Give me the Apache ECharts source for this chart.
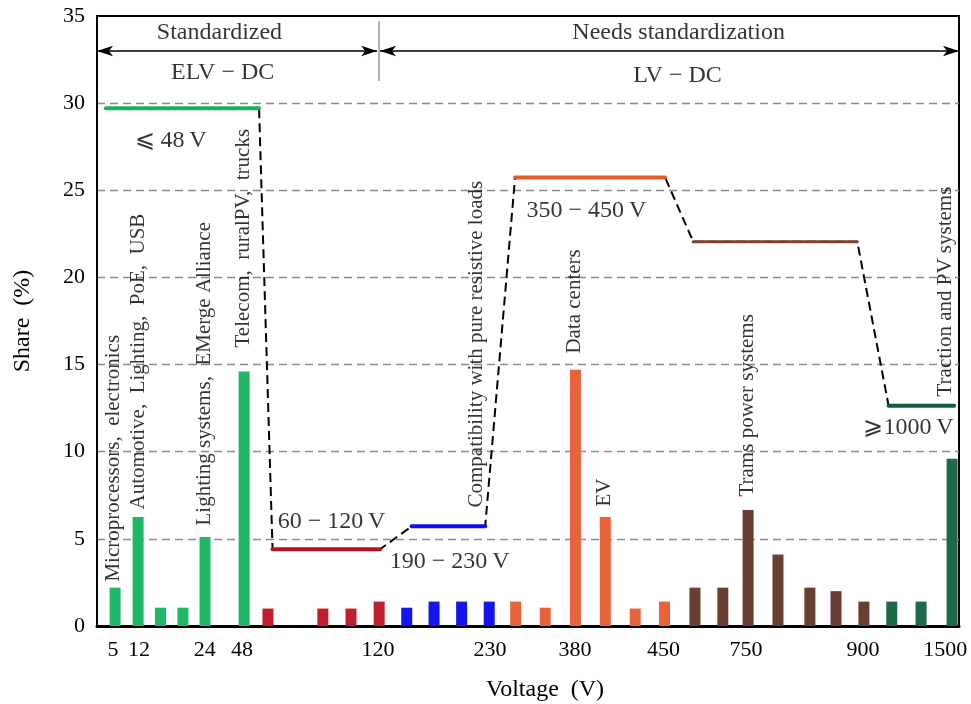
<!DOCTYPE html>
<html><head><meta charset="utf-8">
<script src="https://cdn.jsdelivr.net/npm/echarts@6/dist/echarts.min.js"></script>
<style>html,body{margin:0;padding:0;background:#fff}#c{width:971px;height:704px}</style>
</head><body><div id="c"></div>
<script>
// ---- Data (x positions are in units of the non-linear voltage axis, 0..30) ----
const barPos   = [0.63,1.43,2.21,2.99,3.76,5.12, 5.95,7.86,8.84,9.82, 10.78,11.73,12.69,13.65, 14.57,15.60,16.65,17.69,18.73,19.75, 20.81,21.78,22.66,23.70,24.81,25.72,26.69, 27.66,28.68,29.76];
const barShare = [2.2,6.25,1.05,1.05,5.1,14.6, 1.0,1.0,1.0,1.4, 1.05,1.4,1.4,1.4, 1.4,1.05,14.7,6.25,1.0,1.4, 2.2,2.2,6.65,4.1,2.2,2.0,1.4, 1.4,1.4,9.6];
const barGroup = [0,0,0,0,0,0, 1,1,1,1, 2,2,2,2, 3,3,3,3,3,3, 4,4,4,4,4,4,4, 5,5,5];

const levelStart = [0.31, 6.11, 10.95, 14.55, 20.75, 27.55];
const levelEnd   = [5.64, 9.85, 13.51, 19.77, 26.46, 29.83];
const levelShare = [29.7, 4.4, 5.72, 25.74, 22.05, 12.64];

const rangeText = ['\u2A7D 48\u2009V', '60 \u2212 120\u2009V', '190 \u2212 230\u2009V', '350 \u2212 450\u2009V', '\u2A7E1000\u2009V'];
const rangeX    = [2.58, 8.18, 12.29, 17.05, 28.26];
const rangeY    = [27.83, 5.97, 3.67, 23.81, 11.36];

const appText = ['Microprocessors,\u2002electronics', 'Automotive,\u2002Lighting,\u2002PoE,\u2002USB', 'Lighting systems,\u2002EMerge Alliance', 'Telecom,\u2002ruralPV,\u2002trucks', 'Compatibility with pure resistive loads', 'Data centers', 'EV', 'Trams power systems', 'Traction and PV systems'];
const appX    = [0.59, 1.46, 3.76, 5.12, 13.23, 16.64, 17.68, 22.66, 29.55];
const appY    = [2.52, 6.66, 5.74, 15.95, 6.77, 15.6, 6.83, 7.4, 13.14];

const headText = ['Standardized', 'ELV \u2212 DC', 'Needs standardization', 'LV \u2212 DC'];
const headX    = [4.28, 4.39, 20.26, 20.22];
const headY    = [34.02, 31.73, 34.02, 31.55];
const arrowY = 32.99;
const arrowSpans = [[0, 9.75], [9.85, 30]];
const dividerX = 9.8, dividerY = [31.27, 34.71];

const tickPos  = [0.56, 1.46, 3.75, 5.05, 9.78, 13.68, 16.64, 19.72, 22.59, 26.66, 29.52];
const tickText = ['5', '12', '24', '48', '120', '230', '380', '450', '750', '900', '1500'];
const yMin = 0, yMax = 35, yStep = 5;

// ---- Styles ----
const FONT = "'Liberation Serif','DejaVu Serif',serif";
const barColors   = ['#1fb866', '#be1e2d', '#1414ee', '#e8623a', '#6a3f33', '#1c6a47'];
const levelColors = ['#13b455', '#b8121f', '#0a0ff0', '#e75a2a', '#7a4232', '#0f5f36'];

const chart = echarts.init(document.getElementById('c'), null, {renderer: 'canvas'});

const dashed = [];
levelStart.forEach((s, i) => { dashed.push([s, levelShare[i]]); dashed.push([levelEnd[i], levelShare[i]]); });

const series = [
  {
    type: 'bar', barWidth: 11, z: 2, silent: true,
    data: barPos.map((x, i) => [x, barShare[i]]),
    itemStyle: { color: p => barColors[barGroup[p.dataIndex]] }
  },
  {
    type: 'line', data: dashed, symbol: 'none', z: 3, silent: true,
    lineStyle: { color: '#000', width: 2, type: [9, 5] }
  }
];
levelStart.forEach((s, i) => {
  series.push({
    type: 'line', symbol: 'none', z: 4, silent: true,
    data: [[s, levelShare[i]], [levelEnd[i], levelShare[i]]],
    lineStyle: { color: levelColors[i], width: i === 4 ? 3 : 4, cap: 'round' }
  });
});
series.push({
  type: 'scatter', symbolSize: 1, z: 6, silent: true,
  itemStyle: { color: 'rgba(0,0,0,0)' },
  data: appX.map((x, i) => [x, appY[i]]),
  label: { show: true, position: [0, 0], rotate: 90, align: 'left', verticalAlign: 'middle',
           formatter: p => appText[p.dataIndex], fontFamily: FONT, fontSize: 21, color: '#000' }
});
series.push({
  type: 'scatter', symbolSize: 1, z: 6, silent: true,
  itemStyle: { color: 'rgba(0,0,0,0)' },
  data: rangeX.map((x, i) => [x, rangeY[i]]),
  label: { show: true, position: [0, 0], align: 'center', verticalAlign: 'middle',
           formatter: p => rangeText[p.dataIndex], fontFamily: FONT, fontSize: 24, color: '#000' }
});
series.push({
  type: 'scatter', symbolSize: 1, z: 6, silent: true,
  itemStyle: { color: 'rgba(0,0,0,0)' },
  data: headX.map((x, i) => [x, headY[i]]),
  label: { show: true, position: [0, 0], align: 'center', verticalAlign: 'middle',
           formatter: p => headText[p.dataIndex], fontFamily: FONT, fontSize: 24, color: '#000' },
  markLine: {
    silent: true, animation: false,
    label: { show: false },
    data: [
      [{ coord: [arrowSpans[0][0], arrowY], symbol: 'arrow' }, { coord: [arrowSpans[0][1], arrowY], symbol: 'arrow' }],
      [{ coord: [arrowSpans[1][0], arrowY], symbol: 'arrow' }, { coord: [arrowSpans[1][1], arrowY], symbol: 'arrow' }],
      [{ coord: [dividerX, dividerY[0]], symbol: 'none', lineStyle: { color: '#999', width: 1.5 } },
       { coord: [dividerX, dividerY[1]], symbol: 'none' }]
    ],
    symbolSize: [8, 16],
    lineStyle: { color: '#000', width: 1.5, type: 'solid' }
  }
});

chart.setOption({
  animation: false,
  backgroundColor: '#fff',
  grid: { left: 97, right: 12, top: 16, bottom: 78, outerBoundsMode: 'none', containLabel: false,
          show: true, borderColor: '#000', borderWidth: 2, backgroundColor: 'transparent' },
  xAxis: {
    type: 'value', min: 0, max: 30,
    name: 'Voltage\u2002(V)', nameLocation: 'middle', nameGap: 52,
    nameTextStyle: { fontFamily: FONT, fontSize: 24, color: '#000', padding: [0, 0, 0, 34] },
    axisLine: { show: true, lineStyle: { color: '#000', width: 3 } },
    axisTick: { show: false },
    splitLine: { show: false },
    axisLabel: {
      customValues: tickPos, margin: 13,
      formatter: v => { const k = tickPos.indexOf(v); return k >= 0 ? tickText[k] : ''; },
      fontFamily: FONT, fontSize: 22, color: '#000'
    }
  },
  yAxis: {
    type: 'value', min: yMin, max: yMax, interval: yStep,
    name: 'Share\u2002(%)', nameLocation: 'middle', nameGap: 62,
    nameTextStyle: { fontFamily: FONT, fontSize: 24, color: '#000' },
    axisLine: { show: true, lineStyle: { color: '#000', width: 2 } },
    axisTick: { show: false },
    axisLabel: { margin: 12, fontFamily: FONT, fontSize: 22, color: '#000' },
    splitLine: { show: true, showMinLine: false, showMaxLine: false, lineStyle: { color: '#8a8a8a', width: 1.3, type: [8, 5] } }
  },
  series: series
});
</script></body></html>
